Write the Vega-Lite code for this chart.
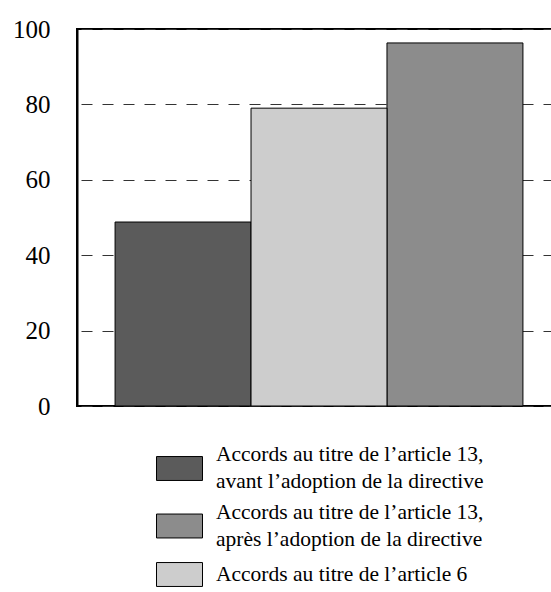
{
  "$schema": "https://vega.github.io/schema/vega-lite/v6.json",
  "width": 484,
  "height": 377,
  "autosize": {"type": "pad"},
  "padding": {"left": 12, "top": 17, "right": 0, "bottom": 0},
  "background": "white",
  "config": {
    "font": "Liberation Serif",
    "view": {"stroke": "black", "strokeWidth": 2},
    "style": {"guide-label": {"lineHeight": 27, "dy": -13.5}}
  },
  "data": {
    "values": [
      {"key": "avant", "label": "Accords au titre de l’article 13,|avant l’adoption de la directive", "pct": 48.8},
      {"key": "art6", "label": "Accords au titre de l’article 6", "pct": 79.0},
      {"key": "apres", "label": "Accords au titre de l’article 13,|après l’adoption de la directive", "pct": 96.3}
    ]
  },
  "encoding": {
    "x": {
      "field": "key",
      "type": "nominal",
      "sort": ["avant", "art6", "apres"],
      "scale": {"paddingInner": 0, "paddingOuter": 0.28},
      "axis": null
    },
    "y": {
      "field": "pct",
      "type": "quantitative",
      "scale": {"domain": [0, 100], "nice": false},
      "axis": {
        "values": [0, 20, 40, 60, 80, 100],
        "title": null,
        "ticks": false,
        "domainColor": "black",
        "domainWidth": 2,
        "labelFontSize": 25,
        "labelColor": "black",
        "labelPadding": 27,
        "labelOffset": 13.5,
        "grid": true,
        "gridColor": "#333333",
        "gridDash": [11, 10],
        "gridDashOffset": 17,
        "gridWidth": 1
      }
    }
  },
  "layer": [
    {
      "transform": [{"filter": "datum.key !== 'art6'"}],
      "mark": {"type": "bar", "stroke": "black", "strokeWidth": 1},
      "encoding": {
        "color": {
          "field": "label",
          "type": "nominal",
          "scale": {
            "domain": [
              "Accords au titre de l’article 13,|avant l’adoption de la directive",
              "Accords au titre de l’article 13,|après l’adoption de la directive"
            ],
            "range": ["#5b5b5b", "#8c8c8c"]
          },
          "legend": {
            "title": null,
            "orient": "none",
            "legendX": 79,
            "legendY": 416,
            "padding": 0,
            "symbolType": "M-1,-0.52H1V0.52H-1Z",
            "symbolSize": 2116,
            "symbolStrokeColor": "black",
            "symbolStrokeWidth": 1,
            "symbolOpacity": 1,
            "labelExpr": "split(datum.label, '|')",
            "labelFont": "Liberation Serif",
            "labelFontSize": 21.5,
            "labelColor": "black",
            "labelLimit": 500,
            "labelOffset": 13,
            "rowPadding": 8.5
          }
        }
      }
    },
    {
      "transform": [{"filter": "datum.key === 'art6'"}],
      "mark": {"type": "bar", "stroke": "black", "strokeWidth": 1},
      "encoding": {
        "color": {
          "field": "label",
          "type": "nominal",
          "scale": {
            "domain": ["Accords au titre de l’article 6"],
            "range": ["#cdcdcd"]
          },
          "legend": {
            "title": null,
            "orient": "none",
            "legendX": 79,
            "legendY": 522,
            "padding": 0,
            "symbolType": "M-1,-0.52H1V0.52H-1Z",
            "symbolSize": 2116,
            "symbolStrokeColor": "black",
            "symbolStrokeWidth": 1,
            "symbolOpacity": 1,
            "labelBaseline": "line-top",
            "labelFont": "Liberation Serif",
            "labelFontSize": 21.5,
            "labelColor": "black",
            "labelLimit": 500,
            "labelOffset": 13
          }
        }
      }
    }
  ],
  "resolve": {"scale": {"color": "independent"}}
}
